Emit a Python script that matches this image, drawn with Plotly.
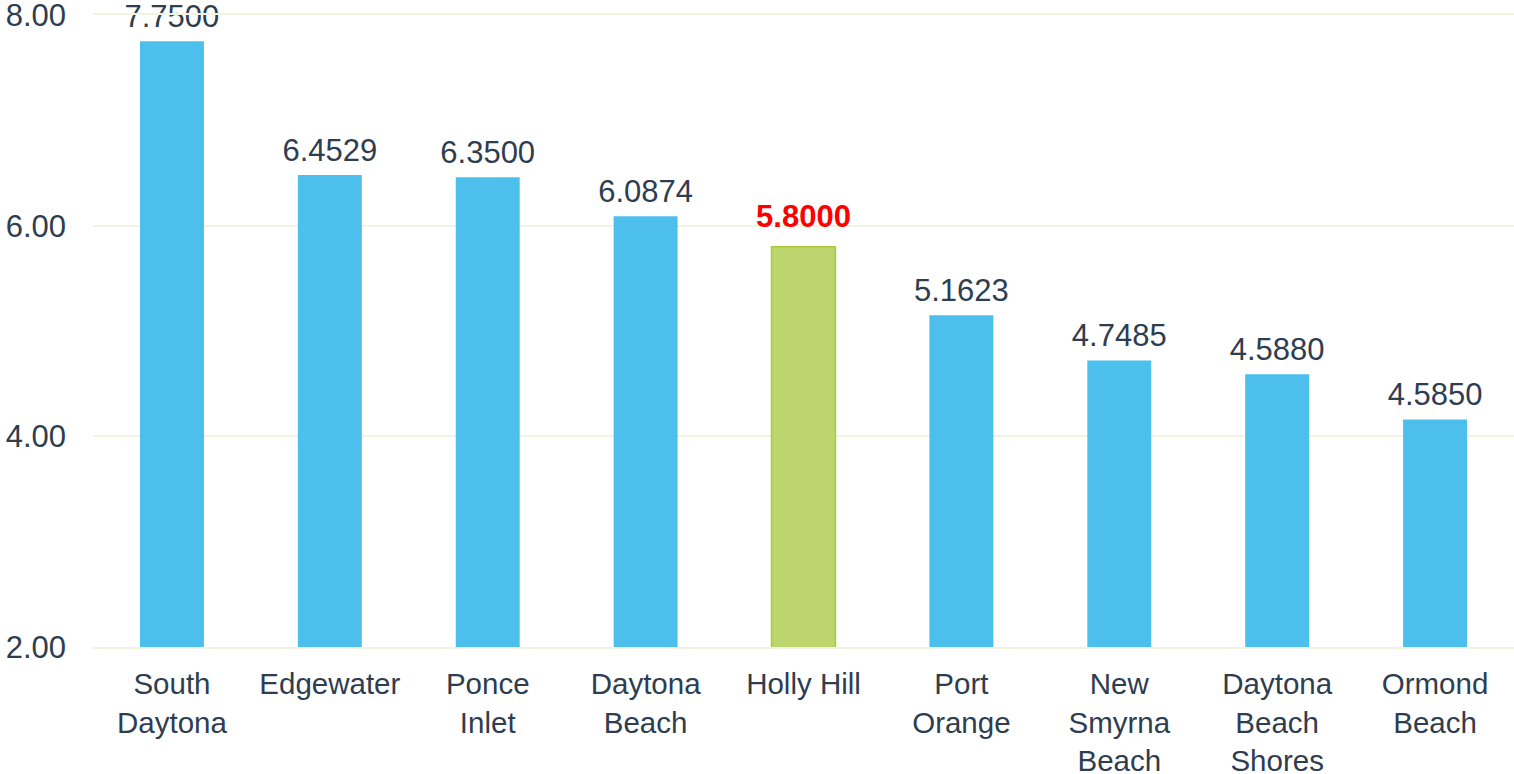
import plotly.graph_objects as go

categories = ["South<br>Daytona", "Edgewater", "Ponce<br>Inlet", "Daytona<br>Beach",
              "Holly Hill", "Port<br>Orange", "New<br>Smyrna<br>Beach",
              "Daytona<br>Beach<br>Shores", "Ormond<br>Beach"]
values = [7.75, 6.48, 6.46, 6.09, 5.80, 5.15, 4.72, 4.59, 4.16]
labels = ["7.7500", "6.4529", "6.3500", "6.0874", "5.8000", "5.1623", "4.7485", "4.5880", "4.5850"]
highlight = "Holly Hill"
y_ticks = [2, 4, 6, 8]
y_ticktext = ["2.00", "4.00", "6.00", "8.00"]

BLUE = "#4DBFED"
GREEN = "#BDD56E"
GREEN_EDGE = "#A9CB3A"
TEXT = "#2E3D4F"
GRID = "#F1F4DF"
FONT = "Liberation Sans, Arial, sans-serif"

fill = [GREEN if c == highlight else BLUE for c in categories]
edge = [GREEN_EDGE if c == highlight else BLUE for c in categories]
edge_w = [1.5 if c == highlight else 0 for c in categories]
txt = [f"<b>{l}</b>" if c == highlight else l for c, l in zip(categories, labels)]
txt_col = ["#FF0000" if c == highlight else TEXT for c in categories]
lbl_marker = [18 if c == highlight else 9 for c in categories]

fig = go.Figure()
fig.add_trace(go.Bar(
    x=categories, y=values,
    marker=dict(color=fill, line=dict(color=edge, width=edge_w)),
    hoverinfo="skip",
))
# value labels above the bars
fig.add_trace(go.Scatter(
    x=categories, y=values, mode="markers+text",
    marker=dict(size=lbl_marker, opacity=0),
    text=txt, textposition="top center", cliponaxis=False,
    textfont=dict(family=FONT, size=31, color=txt_col),
    hoverinfo="skip",
))

fig.update_layout(
    width=1514, height=774,
    margin=dict(l=93, r=0, t=15, b=127),
    paper_bgcolor="white", plot_bgcolor="white",
    bargap=0.595, showlegend=False,
    font=dict(family=FONT, size=31, color=TEXT),
)
fig.update_xaxes(showline=True, mirror=True, linecolor=GRID, linewidth=2,
                 showgrid=False, zeroline=False, ticks="",
                 automargin=False, ticklabelstandoff=10, ticklabeloverflow="allow",
                 tickfont=dict(size=29.5, color=TEXT))
fig.update_yaxes(range=[2, 8], tickvals=y_ticks, ticktext=y_ticktext,
                 showgrid=True, gridcolor=GRID, gridwidth=2,
                 showline=False, zeroline=False, ticks="", automargin=False,
                 ticklabelstandoff=26, ticklabeloverflow="allow",
                 tickfont=dict(size=31, color=TEXT))

fig.write_html("out.html", config={"displayModeBar": False},
               post_script="document.body.style.margin='0';document.body.style.overflow='hidden';")
